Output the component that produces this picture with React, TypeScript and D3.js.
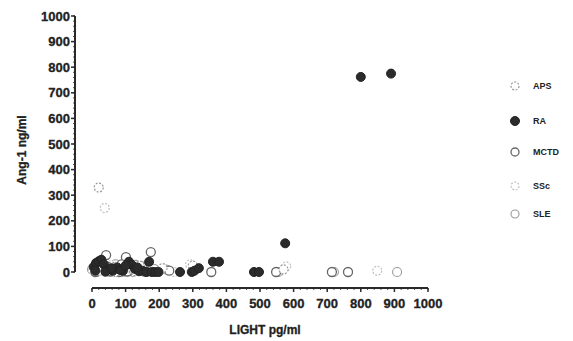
import React from "react";
import * as d3 from "d3";

const W = 573, H = 341;
const xTicks = [0, 100, 200, 300, 400, 500, 600, 700, 800, 900, 1000];
const yTicks = [0, 100, 200, 300, 400, 500, 600, 700, 800, 900, 1000];
const groups = ["APS", "RA", "MCTD", "SSc", "SLE"];

const apsPts: [number, number][] = [
  [20, 330], [8, 10], [22, 5], [45, 15], [60, 20], [85, 5], [105, 12], [130, 3], [150, 10], [210, 15], [300, 25], [570, 10],
  [33, 12], [70, 0], [115, 20], [142, 25],
];
const raPts: [number, number][] = [
  [5, 20], [12, 35], [20, 42], [28, 48], [35, 30], [50, 10], [62, 5], [75, 18], [92, 5], [110, 40], [118, 28], [128, 12],
  [140, 3], [150, 5], [162, 0], [170, 40], [178, 0], [188, 0], [198, 0], [262, 0], [297, 0], [305, 5], [318, 15],
  [360, 40], [378, 40], [482, 0], [497, 0], [575, 112], [800, 762], [890, 775],
  [10, 5], [40, 2], [58, 15], [84, 8], [100, 25], [135, 18],
];
const mctdPts: [number, number][] = [
  [10, 0], [18, 15], [30, 8], [42, 66], [55, 2], [68, 10], [80, 0], [95, 20], [101, 58], [112, 5], [125, 18], [138, 8],
  [148, 22], [160, 2], [175, 78], [230, 5], [355, 0], [548, 0], [714, 0], [762, 0],
  [25, 25], [47, 20], [88, 30], [105, 2],
];
const sscPts: [number, number][] = [
  [3, 5], [15, 25], [38, 250], [48, 0], [58, 28], [72, 2], [88, 15], [100, 0], [120, 8], [135, 20], [155, 0],
  [168, 10], [245, 0], [292, 30], [578, 22], [849, 5],
  [36, 18], [64, 12], [95, 10],
];
const slePts: [number, number][] = [
  [0, 10], [25, 18], [40, 0], [52, 22], [65, 8], [78, 25], [90, 0], [108, 15], [122, 0], [145, 12], [165, 5], [185, 12],
  [220, 10], [555, 0], [720, 0], [908, 0],
  [15, 0], [30, 20], [70, 30], [130, 28],
];

const styles: Record<string, { fill: string; stroke: string; dash?: string; sw: number }> = {
  APS: { fill: "#fff", stroke: "#999", dash: "2,1.5", sw: 1.2 },
  RA: { fill: "#2b2b2b", stroke: "#222", sw: 1 },
  MCTD: { fill: "#fff", stroke: "#666", sw: 1.3 },
  SSc: { fill: "#fff", stroke: "#bbb", dash: "2,1.5", sw: 1.1 },
  SLE: { fill: "#fff", stroke: "#999", sw: 1.1 },
};

const data: Record<string, [number, number][]> = {
  APS: apsPts, RA: raPts, MCTD: mctdPts, SSc: sscPts, SLE: slePts,
};

export default function App() {
  const x = d3.scaleLinear().domain([0, 1000]).range([92, 428]);
  const y = d3.scaleLinear().domain([0, 1000]).range([272, 16]);
  const font = "'Liberation Sans', Arial, sans-serif";
  const axisColor = "#2a2a2a";
  const textColor = "#222";
  const xAxisY = 288;
  const yAxisX = 75;
  const minorX = d3.range(0, 1001, 20);
  const minorY = d3.range(0, 1001, 20);
  const legendY = [86, 121, 152, 186, 214];
  const drawOrder = ["SLE", "SSc", "MCTD", "APS", "RA"];
  return (
    <svg width={W} height={H} style={{ position: "fixed", left: 0, top: 0, background: "#fff" }} fontFamily={font}>
      <rect width={W} height={H} fill="#fff" />
      {/* Y axis */}
      <line x1={yAxisX} x2={yAxisX} y1={y(1000)} y2={y(0)} stroke={axisColor} strokeWidth={2} />
      {minorY.map((v) => (
        <line key={"my" + v} x1={yAxisX - 2} x2={yAxisX} y1={y(v)} y2={y(v)} stroke={axisColor} strokeWidth={0.8} />
      ))}
      {yTicks.map((v) => (
        <g key={"y" + v}>
          <line x1={yAxisX - 4} x2={yAxisX} y1={y(v)} y2={y(v)} stroke={axisColor} strokeWidth={1.5} />
          <text x={yAxisX - 5} y={y(v)} dy="0.35em" textAnchor="end" fontSize={13} fontWeight="bold" fill={textColor}
            stroke={textColor} strokeWidth={0.3}>{v}</text>
        </g>
      ))}
      {/* X axis */}
      <line x1={x(0)} x2={x(1000)} y1={xAxisY} y2={xAxisY} stroke={axisColor} strokeWidth={2} />
      {minorX.map((v) => (
        <line key={"mx" + v} x1={x(v)} x2={x(v)} y1={xAxisY} y2={xAxisY + 2} stroke={axisColor} strokeWidth={0.8} />
      ))}
      {xTicks.map((v) => (
        <g key={"x" + v}>
          <line x1={x(v)} x2={x(v)} y1={xAxisY} y2={xAxisY + 4} stroke={axisColor} strokeWidth={1.5} />
          <text x={x(v)} y={303} dy="0.35em" textAnchor="middle" fontSize={13} fontWeight="bold" fill={textColor}
            stroke={textColor} strokeWidth={0.3}>{v}</text>
        </g>
      ))}
      {/* Axis titles */}
      <text x={265} y={334} textAnchor="middle" fontSize={12} fontWeight="bold" fill={textColor}
        stroke={textColor} strokeWidth={0.3}>LIGHT pg/ml</text>
      <text transform="translate(26,150) rotate(-90)" textAnchor="middle" fontSize={12} fontWeight="bold" fill={textColor}
        stroke={textColor} strokeWidth={0.3}>Ang-1 ng/ml</text>
      {/* Points */}
      {drawOrder.map((g) => (
        <g key={g}>
          {data[g].map((p, i) => (
            <circle key={i} cx={x(p[0])} cy={y(p[1])} r={4.5} fill={styles[g].fill} stroke={styles[g].stroke}
              strokeWidth={styles[g].sw} strokeDasharray={styles[g].dash} />
          ))}
        </g>
      ))}
      {/* Legend */}
      {groups.map((g, i) => (
        <g key={"lg" + g}>
          <circle cx={515} cy={legendY[i]} r={g === "RA" ? 4.5 : 4} fill={styles[g].fill} stroke={styles[g].stroke}
            strokeWidth={styles[g].sw} strokeDasharray={styles[g].dash} />
          <text x={533} y={legendY[i]} dy="0.35em" fontSize={9} fontWeight="bold" fill={textColor}>{g}</text>
        </g>
      ))}
    </svg>
  );
}
